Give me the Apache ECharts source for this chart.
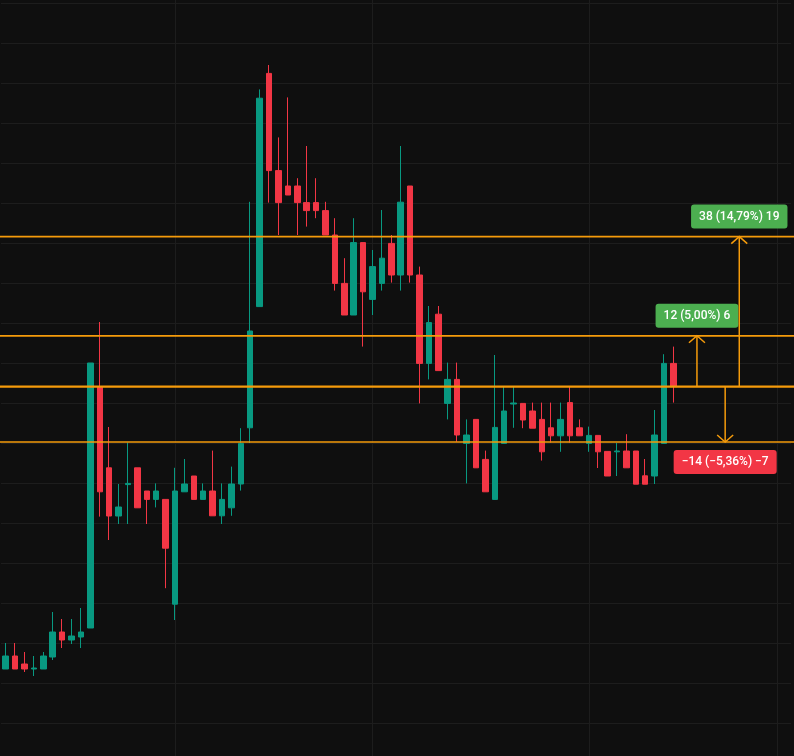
<!DOCTYPE html>
<html><head><meta charset="utf-8">
<script src="https://cdn.jsdelivr.net/npm/echarts@6/dist/echarts.min.js"></script>
<style>html,body{margin:0;padding:0;background:#0f0f0f;overflow:hidden}#c{width:794px;height:756px}</style>
</head><body><div id="c"></div>
<script>
// ---- data (price units) ----
const opens = [183.5,186.75,184.75,183.5,183.5,186.5,192.75,190.75,191.5,193.75,
254.1,233.8,221.75,229.6,233.8,228,225.9,225.9,199.7,227.8,
231.75,225.9,228,221.8,223.8,229.75,243.8,274.1,332.4,308.1,
304.25,304.25,300.1,300.1,298.1,292,279.9,272,290.1,275.9,
279.9,289.9,282,304.25,282,259.9,272.2,249.9,255.9,239.9,
245.9,235.9,225.9,239.9,249.75,249.9,248,245.9,243.8,241.8,
250.1,243.8,239.9,241.9,237.9,237.8,238,238,231.8,231.75,
239.9,259.9];
const closes = [186.75,183.5,183.5,183.75,186.75,192.75,190.75,191.75,192.75,260,
227.8,221.75,224,229.9,223.8,225.9,228,213.7,228,229.75,
225.9,228,221.8,225.9,229.75,239.9,268,326.2,308.1,300.1,
302,300.1,298.1,298.1,292,279.9,272,290.1,277.8,284.1,
286.2,282,300.2,282,259.9,270.1,258.1,255.9,242,242,
233.8,227.8,243.9,248,250,245.75,243.7,237.8,241.8,245.9,
241.8,241.8,241.9,237.8,231.75,238,233.8,229.7,229.7,242,
259.9,254.1];
const lows = [183.5,183.5,182.75,181.75,183.5,185.75,188.75,189.75,188.75,193.75,
221.6,215.75,219.75,219.75,223.8,219.75,223.9,203.7,195.75,227.8,
225.9,225.9,221.8,219.75,221.8,228.1,240,274.1,300.1,292,
302,292,294.1,296.2,292,278.1,272,272,264.1,272,
278.1,280.1,278.1,280.1,249.9,255.9,258.1,245.9,240.3,229.9,
233.8,227.8,225.9,239.9,243.8,243.7,243.7,235.6,240.1,237.8,
240.1,241.8,237.8,233.75,231.75,231.75,233.8,229.7,229.7,229.75,
239.9,250.1];
const highs = [190,190,187.75,186.75,187.75,197.75,196,196,198.75,260,
270.25,244,229.75,240.1,233.8,228,229.9,225.9,233.8,236,
231.75,229.9,238.1,229.9,234.1,243.7,300.3,328.4,334.5,316.4,
326.4,306.2,314.25,306.2,300.3,296.2,286.2,296.2,290.1,288.25,
298.25,292,314.25,304.25,284.1,274.25,274.25,260.1,260.1,245.9,
245.9,238.1,262,254.1,254.1,249.9,250.1,250.1,250.1,250.1,
254.1,245.9,244.1,241.9,237.9,240,242.2,238,236,248.25,
262.2,264.1];
const categories = Array.from({length: 84}, (_, i) => String(i + 1));
const vGridIndex = [18, 39, 62, 82];
const levels = [291.6, 266.8, 254.1, 240.25];
const baseLevel = 254.1;
const arrowPos = [73.5, 78, 76.5];
const arrowTargets = [266.8, 291.6, 240.25];
const arrowLabels = ['12 (5,00%) 6', '38 (14,79%) 19', '\u221214 (\u22125,36%) \u22127'];

// ---- chart ----
const ORANGE = '#f59b0b';
const GRID = '#1d1d1d';
const chart = echarts.init(document.getElementById('c'));
const candleData = opens.map((o, i) => [o, closes[i], lows[i], highs[i]]);
const levelWidths = [1.8, 1.8, 2.4, 1.4];

chart.setOption({
  backgroundColor: '#0f0f0f',
  animation: false,
  grid: {left: 1, top: 3, width: 790, height: 720},
  xAxis: {type: 'category', data: categories, boundaryGap: true,
    axisLine: {show: false}, axisTick: {show: false}, axisLabel: {show: false}, splitLine: {show: false}},
  yAxis: {type: 'value', min: 170, max: 350, interval: 10,
    axisLine: {show: false}, axisTick: {show: false}, axisLabel: {show: false},
    splitLine: {show: true, lineStyle: {color: GRID, width: 1}}},
  series: [
    {type: 'custom', z: 1, clip: false, silent: true,
     data: vGridIndex.map(i => [i, 170]),
     renderItem: (params, api) => {
       const x = Math.round(api.coord([api.value(0), api.value(1)])[0]) + 0.5;
       return {type: 'line', shape: {x1: x, y1: 0, x2: x, y2: api.getHeight()},
         style: {stroke: GRID, lineWidth: 1}};
     }},
    {type: 'candlestick', data: candleData, barWidth: 6, z: 2,
     itemStyle: {color: '#089981', color0: '#f23645', borderColor: '#089981', borderColor0: '#f23645', borderWidth: 1}},
    {type: 'custom', z: 5, clip: false, silent: true,
     data: levels.map(v => [0, v]),
     renderItem: (params, api) => {
       const y = api.coord([0, api.value(1)])[1];
       return {type: 'line', shape: {x1: 0, y1: y, x2: api.getWidth(), y2: y},
         style: {stroke: ORANGE, lineWidth: levelWidths[params.dataIndex]}};
     }},
    {type: 'custom', z: 6, clip: false, silent: true,
     data: arrowPos.map((p, i) => [Math.floor(p), arrowTargets[i], p - Math.floor(p), baseLevel]),
     renderItem: (params, api) => {
       const base = api.coord([api.value(0), api.value(3)]);
       const tgt = api.coord([api.value(0), api.value(1)]);
       const band = api.size([1, 0])[0];
       const x = base[0] + api.value(2) * band;
       const y0 = base[1], y1 = tgt[1];
       const up = y1 < y0;
       const d = up ? 1 : -1;
       const i = params.dataIndex;
       const labelY = up ? y1 - 20 : y1 + 20;
       return {type: 'group', children: [
         {type: 'line', shape: {x1: x, y1: y0, x2: x, y2: y1}, style: {stroke: ORANGE, lineWidth: 1.5}},
         {type: 'polyline', shape: {points: [[x - 8, y1 + 7 * d], [x, y1], [x + 8, y1 + 7 * d]]},
          style: {stroke: ORANGE, lineWidth: 1.5, fill: null}},
         {type: 'text', x: x, y: labelY,
          style: {text: arrowLabels[i], fill: '#ffffff', font: '500 12px Roboto', lineHeight: 14,
            align: 'center', verticalAlign: 'middle',
            backgroundColor: up ? '#4caf50' : '#f23645', padding: [5, 8], borderRadius: 3}}
       ]};
     }}
  ]
});
</script>
</body></html>
